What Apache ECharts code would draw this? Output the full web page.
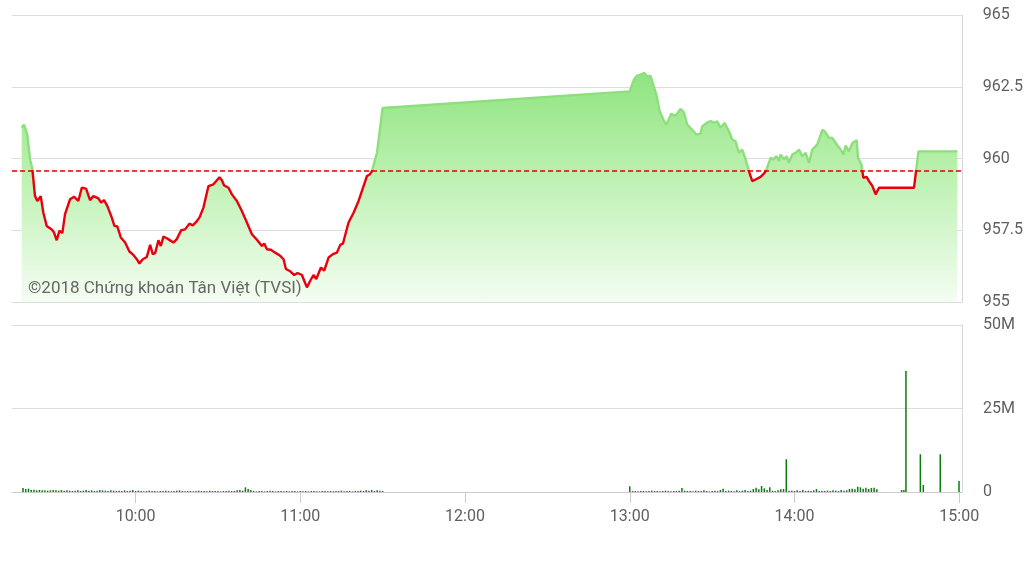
<!DOCTYPE html>
<html>
<head>
<meta charset="utf-8">
<script src="https://cdn.jsdelivr.net/npm/echarts@6/dist/echarts.min.js"></script>
<style>
html,body{margin:0;padding:0;background:#fff;}
#chart{width:1026px;height:576px;}
</style>
</head>
<body>
<div id="chart"></div>
<script>
// ---- data ----
const refPrice = 959.59;
const priceTicks = [955, 957.5, 960, 962.5, 965];
const volumeTicks = [0, 25, 50];
const hourLabels = ['10:00', '11:00', '12:00', '13:00', '14:00', '15:00'];

const priceTimes = [
 '09:18:32','09:19:22','09:20:35','09:21:34','09:22:24','09:23:23','09:24:13','09:25:28','09:26:25','09:27:39',
 '09:29:28','09:30:19','09:31:18','09:32:15','09:33:20','09:34:19','09:36:09','09:37:36','09:39:10','09:40:25',
 '09:41:59','09:43:26','09:44:38','09:46:28','09:47:27','09:48:32','09:49:45','09:51:21','09:52:18','09:53:23',
 '09:54:38','09:56:12','09:57:46','09:59:13','10:00:28','10:01:25','10:02:39','10:04:07','10:05:19','10:06:17',
 '10:07:08','10:08:20','10:09:13','10:10:10','10:11:24','10:12:52','10:13:48','10:15:02','10:16:37','10:18:04',
 '10:19:38','10:20:53','10:22:20','10:23:17','10:24:44','10:26:34','10:28:23','10:29:38','10:30:35','10:31:28',
 '10:32:17','10:33:52','10:35:06','10:36:55','10:38:44','10:40:34','10:42:23','10:44:13','10:46:02','10:46:52',
 '10:47:52','10:49:19','10:50:53','10:52:42','10:53:55','10:54:47','10:56:21','10:57:49','10:59:01','11:00:37',
 '11:01:27','11:02:26','11:03:38','11:04:50','11:05:50','11:07:32','11:08:44','11:10:19','11:11:55','11:13:22',
 '11:14:35','11:15:34','11:17:36','11:19:26','11:21:15','11:23:04','11:24:19','11:25:16','11:26:08','11:27:58',
 '11:30:00',
 '13:00:00','13:01:30','13:02:44','13:03:57','13:05:24','13:06:23','13:07:35','13:08:48','13:09:47','13:10:59',
 '13:12:20','13:13:25','13:15:08','13:16:42','13:18:32','13:19:44','13:20:58','13:22:47','13:24:22','13:25:49',
 '13:26:26','13:28:00','13:29:28','13:30:55','13:31:54','13:33:07','13:34:34','13:36:08','13:37:22','13:38:35',
 '13:39:47','13:41:01','13:42:14','13:43:26','13:44:40','13:45:52','13:46:29','13:47:42','13:49:09','13:49:53',
 '13:51:20','13:52:19','13:53:32','13:54:22','13:54:59','13:56:11','13:57:10','13:58:01','13:59:15','14:00:28',
 '14:01:40','14:02:54','14:04:07','14:05:19','14:06:33','14:08:22','14:10:11','14:11:02','14:12:36','14:13:50',
 '14:15:24','14:16:52','14:17:51','14:18:41','14:19:53','14:21:08','14:22:42','14:23:10','14:24:25','14:25:08',
 '14:26:20','14:27:11','14:28:25','14:29:37','14:30:50','14:43:35','14:45:12','14:59:24'
];
const priceValues = [
 961.07,961.18,960.83,959.97,959.64,958.69,958.52,958.69,958.11,957.65,
 957.53,957.42,957.15,957.48,957.40,958.06,958.58,958.67,958.52,958.98,
 958.95,958.55,958.69,958.61,958.46,958.55,958.34,957.94,957.65,957.63,
 957.25,957.07,956.76,956.64,956.49,956.34,956.49,956.57,956.99,956.67,
 956.70,957.15,956.95,957.28,957.22,957.13,957.07,957.19,957.50,957.53,
 957.73,957.67,957.82,957.94,958.29,959.04,959.10,959.24,959.35,959.24,
 959.06,958.98,958.75,958.52,958.17,957.77,957.36,957.17,956.95,957.04,
 956.84,956.82,956.72,956.61,956.49,956.15,956.07,955.94,956.01,955.94,
 955.74,955.51,955.74,955.94,955.80,956.20,956.09,956.55,956.67,956.72,
 956.99,957.04,957.77,958.11,958.52,959.04,959.39,959.44,959.56,960.20,
 961.76,
 962.34,962.74,962.89,962.92,962.98,962.86,962.88,962.51,962.20,961.64,
 961.35,961.18,961.56,961.49,961.73,961.61,961.18,961.00,960.83,960.87,
 961.12,961.24,961.30,961.24,961.30,961.07,961.24,960.95,960.66,960.60,
 960.20,960.31,959.97,959.56,959.21,959.27,959.21,959.36,959.50,959.62,
 960.02,959.97,960.08,959.91,960.14,959.97,960.08,959.85,960.14,960.20,
 960.31,960.08,960.20,959.85,960.31,960.49,961.00,960.95,960.72,960.72,
 960.49,960.31,960.14,960.45,960.25,960.54,960.64,960.02,959.79,959.33,
 959.36,959.21,959.04,958.75,958.98,958.98,960.25,960.25
];

// volume in millions, one bar per minute
const morningVolStart = '09:19';
const morningVolumes = [
 1.2,0.9,1.0,0.6,0.7,0.5,0.6,0.5,0.5,0.4,0.5,0.6,0.5,0.4,0.6,0.4,0.5,
 0.4,0.3,0.4,0.5,0.3,0.4,0.6,0.4,0.5,0.3,0.4,0.6,0.5,0.4,0.3,0.5,0.4,0.3,0.4,0.3,0.5,0.3,0.4,0.6,
 0.3,0.4,0.3,0.2,0.3,0.4,0.3,0.3,0.2,0.3,0.3,0.4,0.3,0.2,0.3,0.4,0.5,0.3,0.2,0.3,0.3,0.2,0.3,0.4,0.3,0.3,0.2,0.4,0.3,0.3,
 0.3,0.2,0.3,0.3,0.4,0.3,0.3,0.5,0.6,0.4,1.4,0.9,0.6,0.3,0.2,0.3,0.3,0.2,0.3,0.4,0.3,0.2,0.3,0.3,0.2,0.3,0.2,0.3,0.3,0.2,
 0.3,0.2,0.3,0.2,0.3,0.3,0.2,0.2,0.3,0.3,0.2,0.3,0.2,0.3,0.3,0.4,0.2,0.3,0.3,0.2,0.3,0.3,0.4,0.3,0.5,0.4,0.6,0.3,0.5,0.4,0.3
];
const afternoonVolStart = '13:00';
const afternoonVolumes = [
 1.7,0.3,0.3,0.2,0.3,0.3,0.2,0.3,0.4,0.3,
 0.3,0.2,0.3,0.4,0.3,0.2,0.3,0.3,0.4,1.2,
 0.4,0.3,0.3,0.2,0.4,0.3,0.3,0.5,0.3,0.2,
 0.3,0.4,0.3,0.6,1.0,0.3,0.4,0.3,0.2,0.5,
 0.3,0.4,0.6,0.3,0.4,0.9,1.3,0.8,1.8,1.1,
 0.6,1.4,0.4,0.3,0.5,0.8,0.9,9.8,0.4,0.4,
 0.3,0.5,0.3,0.6,0.3,0.4,0.3,0.5,0.9,0.3,
 0.4,0.3,0.4,0.3,0.5,0.4,0.3,0.6,0.4,0.5,
 0.9,1.0,0.8,1.6,1.4,1.0,1.3,0.9,1.2,1.3,
 0.8
];
const lateVolTimes = ['14:39:00','14:39:50','14:40:35','14:45:50','14:46:55','14:53:05','14:59:55'];
const lateVolumes = [0.6, 0.6, 36.2, 11.3, 2.1, 11.3, 3.3];

// ---- build ----
function toMin(s) { const p = s.split(':').map(Number); return p[0] * 60 + p[1] + (p[2] || 0) / 60; }
const priceData = priceTimes.map((t, i) => [toMin(t), priceValues[i]]);
const volData = [];
morningVolumes.forEach((v, i) => volData.push([toMin(morningVolStart) + i, v]));
afternoonVolumes.forEach((v, i) => volData.push([toMin(afternoonVolStart) + i, v]));
lateVolTimes.forEach((t, i) => volData.push([toMin(t), lateVolumes[i]]));
const hourValues = hourLabels.map(toMin);

const upColor = '#8ddf7c';
const downColor = '#e8000e';
const labelColor = '#5f5f5f';
const font = 'Roboto, "DejaVu Sans", sans-serif';
const chart = echarts.init(document.getElementById('chart'), null, { renderer: 'canvas' });
chart.setOption({
  animation: false,
  backgroundColor: '#ffffff',
  grid: [
    { left: 12, right: 64, top: 15, height: 287 },
    { left: 12, right: 64, top: 325, height: 167 }
  ],
  xAxis: [
    { gridIndex: 0, type: 'value', min: 555, max: 901, show: false },
    { gridIndex: 1, type: 'value', min: 555, max: 901,
      axisLine: { show: true, lineStyle: { color: '#cccccc' } },
      axisTick: { show: true, customValues: hourValues, length: 11, lineStyle: { color: '#cccccc' } },
      axisLabel: { customValues: hourValues, margin: 17, color: labelColor, fontSize: 16, fontFamily: font,
        formatter: v => hourLabels[hourValues.indexOf(v)] || '' },
      splitLine: { show: false } }
  ],
  yAxis: [
    { gridIndex: 0, type: 'value', position: 'right', min: priceTicks[0], max: priceTicks[priceTicks.length - 1], interval: 2.5,
      axisLine: { show: true, lineStyle: { color: '#d3d9e1' } },
      axisTick: { show: false },
      splitLine: { lineStyle: { color: '#dcdcdc' } },
      axisLabel: { margin: 21, color: labelColor, fontSize: 16, fontFamily: font, padding: [4, 0, 0, 0] } },
    { gridIndex: 1, type: 'value', position: 'right', min: volumeTicks[0], max: volumeTicks[volumeTicks.length - 1], interval: 25,
      axisLine: { show: true, lineStyle: { color: '#d3d9e1' } },
      axisTick: { show: false },
      splitLine: { lineStyle: { color: '#dcdcdc' } },
      axisLabel: { margin: 21, color: labelColor, fontSize: 16, fontFamily: font, padding: [4, 0, 0, 0],
        formatter: v => v === 0 ? '0' : v + 'M' } }
  ],
  graphic: [
    { type: 'text', left: 28, top: 280, z: 100,
      style: { text: '©2018 Chứng khoán Tân Việt (TVSI)', fill: '#666666', font: '17px Roboto, "DejaVu Sans", sans-serif' } }
  ],
  series: [
    { name: 'price', type: 'line', xAxisIndex: 0, yAxisIndex: 0, data: priceData,
      showSymbol: false, symbol: 'none', smooth: false,
      lineStyle: { width: 2.4, color: upColor },
      areaStyle: { opacity: 1, color: new echarts.graphic.LinearGradient(0, 0, 0, 1, [
        { offset: 0, color: '#8fe480' }, { offset: 0.45, color: '#bdf1b1' }, { offset: 1, color: '#f4fdf2' } ]) },
      markLine: { silent: true, symbol: ['none', 'none'], label: { show: false },
        lineStyle: { color: '#e00000', type: [5, 3], width: 1.5 },
        data: [ { yAxis: refPrice } ] } },
    { name: 'volume', type: 'bar', xAxisIndex: 1, yAxisIndex: 1, data: volData,
      barWidth: 1.5, itemStyle: { color: '#0a7d0a' } }
  ]
});

// colour the price line green above the reference and red below it
const refY = chart.convertToPixel({ yAxisIndex: 0 }, refPrice);
const H = 576;
const f = Math.min(1, Math.max(0, refY / H));
chart.setOption({
  series: [{ name: 'price', lineStyle: { color: new echarts.graphic.LinearGradient(0, 0, 0, H, [
    { offset: 0, color: upColor }, { offset: f, color: upColor },
    { offset: f, color: downColor }, { offset: 1, color: downColor } ], true) } }]
});
</script>
</body>
</html>
